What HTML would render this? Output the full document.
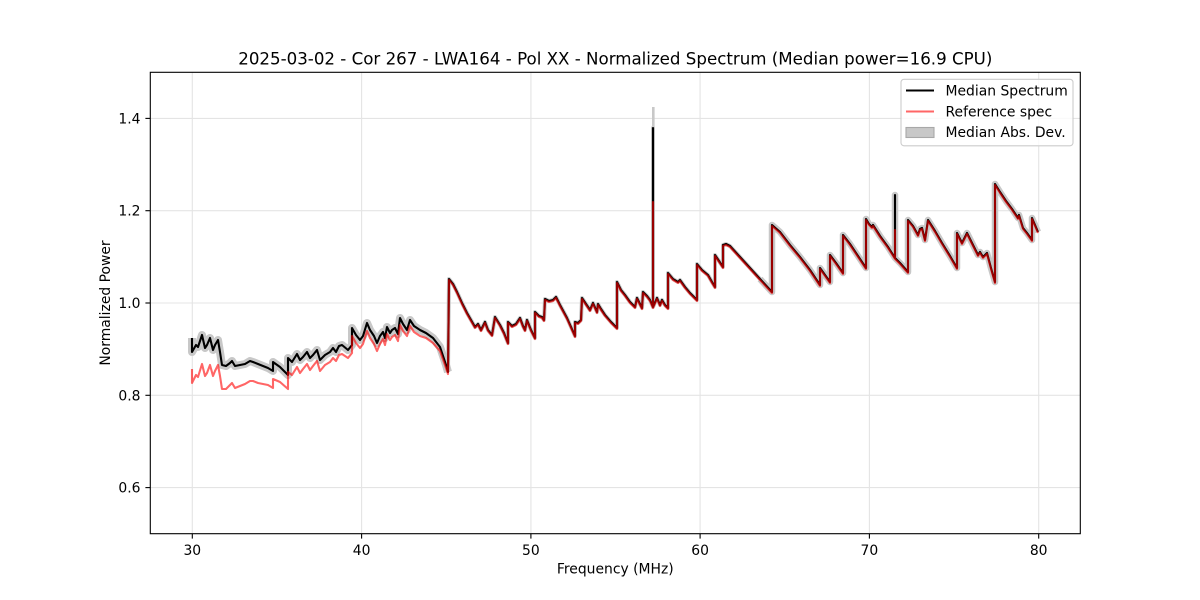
<!DOCTYPE html>
<html>
<head>
<meta charset="utf-8">
<style>
html,body{margin:0;padding:0;background:#fff;}
svg{display:block;}
text{font-family:"DejaVu Sans","Liberation Sans",sans-serif;fill:#000;}
</style>
</head>
<body>
<svg width="1200" height="600" viewBox="0 0 1200 600" xmlns="http://www.w3.org/2000/svg">
<rect x="0" y="0" width="1200" height="600" fill="#fff"/>
<!-- grid -->
<g stroke="#e4e4e4" stroke-width="1.1">
<line x1="192.3" y1="72.3" x2="192.3" y2="533.7"/>
<line x1="361.6" y1="72.3" x2="361.6" y2="533.7"/>
<line x1="530.9" y1="72.3" x2="530.9" y2="533.7"/>
<line x1="700.1" y1="72.3" x2="700.1" y2="533.7"/>
<line x1="869.4" y1="72.3" x2="869.4" y2="533.7"/>
<line x1="1038.7" y1="72.3" x2="1038.7" y2="533.7"/>
<line x1="150.3" y1="487.6" x2="1080.3" y2="487.6"/>
<line x1="150.3" y1="395.3" x2="1080.3" y2="395.3"/>
<line x1="150.3" y1="303.0" x2="1080.3" y2="303.0"/>
<line x1="150.3" y1="210.7" x2="1080.3" y2="210.7"/>
<line x1="150.3" y1="118.4" x2="1080.3" y2="118.4"/>
</g>

<!-- MAD band -->
<g fill="none" stroke="#c8c8c8" stroke-linejoin="round" stroke-linecap="butt">
<polyline stroke-width="8" points="192,338 192,352 196,345 198,347 202,335 205,348 207,345 210,338 213,350 215,345 218,340 220,352 222,365 226,366 230,363 232,361 235,366 240,365 245,364 250,361 253,362 258,364 263,366 268,368 273,371 273,362 280,367 288,375 288,358 292,362 297,354 300,360 303,357 307,352 310,358 313,355 317,350 320,360 325,355 330,352 333,348 336,352 339,346 342,345 348,350 352,345 352,328 356,335 360,340 363,336 367,323 370,330 374,336 377,343 380,336 383,332 385,338 387,327 390,333 392,330 395,328 398,334 400,318 403,324 407,330 410,320 414,326 420,330 426,333 433,338 440,347 446,365 448,372"/>
<polyline stroke-width="4" points="448,372 449,279 453,284 457,292 462,303 467,313 471,320 475,327 478,324 481,330 485,322 488,330 492,335 495,317 500,325 504,333 508,343 508,322 512,326 516,324 520,318 523,326 525,330 527,320 531,330 535,338 535,312 539,316 542,317 544,320 545,299 549,301 553,300 556,297 560,305 567,318 575,336 575,322 578,323 581,320 582,298 586,304 590,310 593,303 597,312 598,304 601,309 605,315 611,322 617,328 617,282 621,290 625,295 630,302 635,307 637,298 642,308 643,292 647,296 650,300 653,307 653,128 653,307 657,298 660,305 662,300 665,305 668,308 668,273 673,279 678,282 680,280 685,287 690,293 697,300 697,264 702,270 708,275 712,282 715,287 715,255 719,261 723,267 723,245 726,244 730,246 740,257 750,268 760,279"/>
<polyline stroke-width="6.5" points="760,279 772,292 772,225 780,232 790,245 800,257 810,270 820,285 820,268 825,275 830,282 830,255 836,263 843,273 843,235 850,244 858,256 866,268 866,219 869,224 872,227 873,225 880,236 888,247 895,258 895,195 895,258 900,263 908,272 908,220 913,226 918,235 920,229 922,228 925,240 928,220 935,231 942,243 950,256 957,268 957,233 962,243 967,233 972,243 978,255 980,252 983,257 987,253 991,268 995,282 995,184 1000,192 1006,201 1012,209 1018,218 1019,215 1023,228 1027,233 1032,240 1032,218 1035,225 1038,232"/>
<line x1="653.3" y1="107" x2="653.3" y2="140" stroke-width="2.6"/>
</g>

<!-- Median spectrum (black) -->
<polyline fill="none" stroke="#000" stroke-width="2.1" stroke-linejoin="round" points="192,338 192,352 196,345 198,347 202,335 205,348 207,345 210,338 213,350 215,345 218,340 220,352 222,365 226,366 230,363 232,361 235,366 240,365 245,364 250,361 253,362 258,364 263,366 268,368 273,371 273,362 280,367 288,375 288,358 292,362 297,354 300,360 303,357 307,352 310,358 313,355 317,350 320,360 325,355 330,352 333,348 336,352 339,346 342,345 348,350 352,345 352,328 356,335 360,340 363,336 367,323 370,330 374,336 377,343 380,336 383,332 385,338 387,327 390,333 392,330 395,328 398,334 400,318 403,324 407,330 410,320 414,326 420,330 426,333 433,338 440,347 446,365 448,372 449,279 453,284 457,292 462,303 467,313 471,320 475,327 478,324 481,330 485,322 488,330 492,335 495,317 500,325 504,333 508,343 508,322 512,326 516,324 520,318 523,326 525,330 527,320 531,330 535,338 535,312 539,316 542,317 544,320 545,299 549,301 553,300 556,297 560,305 567,318 575,336 575,322 578,323 581,320 582,298 586,304 590,310 593,303 597,312 598,304 601,309 605,315 611,322 617,328 617,282 621,290 625,295 630,302 635,307 637,298 642,308 643,292 647,296 650,300 653,307 653,128 653,307 657,298 660,305 662,300 665,305 668,308 668,273 673,279 678,282 680,280 685,287 690,293 697,300 697,264 702,270 708,275 712,282 715,287 715,255 719,261 723,267 723,245 726,244 730,246 740,257 750,268 760,279 772,292 772,225 780,232 790,245 800,257 810,270 820,285 820,268 825,275 830,282 830,255 836,263 843,273 843,235 850,244 858,256 866,268 866,219 869,224 872,227 873,225 880,236 888,247 895,258 895,195 895,258 900,263 908,272 908,220 913,226 918,235 920,229 922,228 925,240 928,220 935,231 942,243 950,256 957,268 957,233 962,243 967,233 972,243 978,255 980,252 983,257 987,253 991,268 995,282 995,184 1000,192 1006,201 1012,209 1018,218 1019,215 1023,228 1027,233 1032,240 1032,218 1035,225 1038,232"/>

<!-- Reference spec (red, alpha 0.6) -->
<polyline fill="none" stroke="#ff0000" stroke-opacity="0.6" stroke-width="2.1" stroke-linejoin="round" points="192,369 192,383 196,375 198,377 202,364 205,376 207,373 210,365 213,376 215,371 218,365 220,376 222,389 226,389 230,385 232,383 235,388 240,386 245,384 250,381 253,381 258,383 263,384 268,385 273,388 273,379 280,382 288,389 288,372 292,375 297,367 300,373 303,369 307,364 310,370 313,366 317,361 320,371 325,365 330,362 333,358 336,361 339,355 342,354 348,358 352,353 352,336 356,343 360,348 363,344 367,331 370,338 374,344 377,351 380,344 383,339 385,345 387,334 390,340 392,337 395,335 398,341 400,325 403,331 407,336 410,326 414,332 420,336 426,338 433,343 440,351 446,368 448,374 449,280 453,285 457,293 462,304 467,314 471,321 475,328 478,325 481,331 485,323 488,331 492,336 495,318 500,326 504,334 508,344 508,323 512,327 516,325 520,319 523,327 525,331 527,321 531,331 535,339 535,313 539,317 542,318 544,321 545,300 549,302 553,301 556,298 560,306 567,319 575,337 575,323 578,324 581,321 582,299 586,305 590,311 593,304 597,313 598,305 601,310 605,316 611,323 617,329 617,283 621,291 625,296 630,303 635,308 637,299 642,309 643,293 647,297 650,301 653,308 653,202 653,308 657,299 660,306 662,301 665,306 668,309 668,274 673,280 678,283 680,281 685,288 690,294 697,301 697,265 702,271 708,276 712,283 715,288 715,256 719,262 723,268 723,246 726,245 730,247 740,258 750,269 760,280 772,293 772,226 780,233 790,246 800,258 810,271 820,286 820,269 825,276 830,283 830,256 836,264 843,274 843,236 850,245 858,257 866,269 866,220 869,225 872,228 873,226 880,237 888,248 895,259 895,230 895,259 900,264 908,273 908,221 913,227 918,236 920,230 922,229 925,241 928,221 935,232 942,244 950,257 957,269 957,234 962,244 967,234 972,244 978,256 980,253 983,258 987,254 991,269 995,283 995,185 1000,193 1006,202 1012,210 1018,219 1019,216 1023,229 1027,234 1032,241 1032,219 1035,226 1038,233"/>

<!-- axes frame -->
<rect x="150.3" y="72.3" width="930" height="461.4" fill="none" stroke="#000" stroke-width="1.1"/>

<!-- ticks -->
<g stroke="#000" stroke-width="1.1">
<line x1="192.3" y1="533.7" x2="192.3" y2="538.6"/>
<line x1="361.6" y1="533.7" x2="361.6" y2="538.6"/>
<line x1="530.9" y1="533.7" x2="530.9" y2="538.6"/>
<line x1="700.1" y1="533.7" x2="700.1" y2="538.6"/>
<line x1="869.4" y1="533.7" x2="869.4" y2="538.6"/>
<line x1="1038.7" y1="533.7" x2="1038.7" y2="538.6"/>
<line x1="145.4" y1="487.6" x2="150.3" y2="487.6"/>
<line x1="145.4" y1="395.3" x2="150.3" y2="395.3"/>
<line x1="145.4" y1="303.0" x2="150.3" y2="303.0"/>
<line x1="145.4" y1="210.7" x2="150.3" y2="210.7"/>
<line x1="145.4" y1="118.4" x2="150.3" y2="118.4"/>
</g>

<!-- tick labels -->
<g font-size="13.9" text-anchor="middle">
<text x="192.3" y="555">30</text>
<text x="361.6" y="555">40</text>
<text x="530.9" y="555">50</text>
<text x="700.1" y="555">60</text>
<text x="869.4" y="555">70</text>
<text x="1038.7" y="555">80</text>
</g>
<g font-size="13.9" text-anchor="end">
<text x="140.5" y="492.6">0.6</text>
<text x="140.5" y="400.3">0.8</text>
<text x="140.5" y="308.0">1.0</text>
<text x="140.5" y="215.7">1.2</text>
<text x="140.5" y="123.4">1.4</text>
</g>

<!-- axis labels -->
<text x="615.3" y="573.5" font-size="13.9" text-anchor="middle">Frequency (MHz)</text>
<text transform="translate(110,303) rotate(-90)" x="0" y="0" font-size="13.9" text-anchor="middle">Normalized Power</text>

<!-- title -->
<text x="615.3" y="64.5" font-size="16.67" text-anchor="middle">2025-03-02 - Cor 267 - LWA164 - Pol XX - Normalized Spectrum (Median power=16.9 CPU)</text>

<!-- legend -->
<rect x="901" y="79.3" width="172" height="66.5" rx="3" ry="3" fill="#fff" fill-opacity="0.8" stroke="#cccccc" stroke-width="1.1"/>
<line x1="906" y1="90.5" x2="934" y2="90.5" stroke="#000" stroke-width="2.1"/>
<line x1="906" y1="111.5" x2="934" y2="111.5" stroke="#ff0000" stroke-opacity="0.6" stroke-width="2.1"/>
<rect x="906" y="127.5" width="28" height="10" fill="#c8c8c8" stroke="#a8a8a8" stroke-width="1.1"/>
<g font-size="13.9">
<text x="945.5" y="95.5">Median Spectrum</text>
<text x="945.5" y="116.3">Reference spec</text>
<text x="945.5" y="137">Median Abs. Dev.</text>
</g>
</svg>
</body>
</html>
